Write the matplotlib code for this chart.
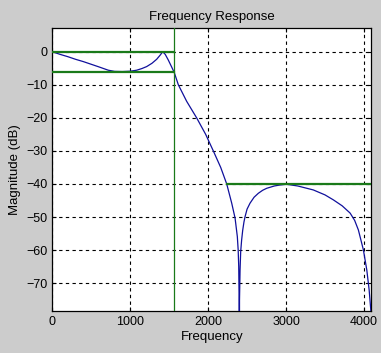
import matplotlib
matplotlib.use('Agg')
import matplotlib.pyplot as plt

# magnitude response (Hz, dB)
freq_hz = [0, 100, 200, 300, 400, 500, 600, 720, 800, 900, 1000, 1083,
           1150, 1212, 1280, 1340, 1390, 1417, 1450, 1489, 1530, 1566,
           1618, 1725, 1853, 1969, 2067, 2162, 2239, 2303, 2346, 2375,
           2386, 2393, 2398, 2400, 2403, 2410, 2418, 2430, 2444, 2460,
           2474, 2500, 2538, 2590, 2645, 2700, 2752, 2850, 2923, 3009,
           3150, 3350, 3500, 3607, 3720, 3822, 3880, 3928, 3992, 4036,
           4066, 4087, 4096]
mag_db = [0.0, -0.8, -1.5, -2.3, -3.0, -3.8, -4.6, -5.6, -5.95, -6.0, -5.9, -5.6,
          -5.1, -4.5, -3.5, -2.3, -0.9, 0.0, -0.8, -2.5, -4.5, -6.3,
          -10.0, -15.0, -20.0, -25.0, -30.0, -35.0, -40.0, -45.8, -50.3, -55.9,
          -60.0, -65.0, -75.0, -150.0, -75.0, -66.0, -60.5, -57.0, -54.0, -51.5,
          -49.9, -47.6, -45.8, -44.0, -42.8, -41.9, -41.3, -40.6, -40.3, -40.1,
          -40.6, -41.8, -43.3, -44.8, -46.6, -48.8, -51.0, -53.9, -59.9, -66.0,
          -72.0, -78.0, -200.0]

# spec lines
passband_edge = 1566
stopband_edge = 2239
passband_ripple = -6
stopband_atten = -40
nyquist = 4096

fig = plt.figure(figsize=(3.81, 3.53), dpi=100, facecolor='#cccccc')
ax = fig.add_axes([0.137, 0.119, 0.838, 0.802])
ax.set_facecolor('white')

ax.plot(freq_hz, mag_db, color='#10109c', linewidth=0.9, zorder=3)

green = '#1a7a1a'
ax.plot([0, passband_edge], [0, 0], color=green, linewidth=1.6, zorder=4)
ax.plot([0, passband_edge], [passband_ripple, passband_ripple], color=green, linewidth=1.6, zorder=4)
ax.axvline(passband_edge, color=green, linewidth=0.9, zorder=4)
ax.plot([stopband_edge, nyquist], [stopband_atten, stopband_atten], color=green, linewidth=1.6, zorder=4)

ax.set_xlim(0, nyquist)
ax.set_ylim(-78.4, 7.2)
ax.set_xticks([0, 1000, 2000, 3000, 4000])
ax.set_yticks([0, -10, -20, -30, -40, -50, -60, -70])
ax.grid(True, color='black', linestyle=(0, (3, 3)), linewidth=0.8)
ax.tick_params(direction='in', top=True, right=True, length=3, labelsize=9)
for s in ax.spines.values():
    s.set_linewidth(0.9)

font = 'Liberation Sans'
for lbl in ax.get_xticklabels() + ax.get_yticklabels():
    lbl.set_family(font)
ax.set_title('Frequency Response', fontsize=9.5, family=font, pad=6)
ax.set_xlabel('Frequency', fontsize=9.5, family=font, labelpad=2)
ax.set_ylabel('Magnitude (dB)', fontsize=9.5, family=font, labelpad=4)

fig.savefig('out.png', dpi=100, facecolor=fig.get_facecolor())
